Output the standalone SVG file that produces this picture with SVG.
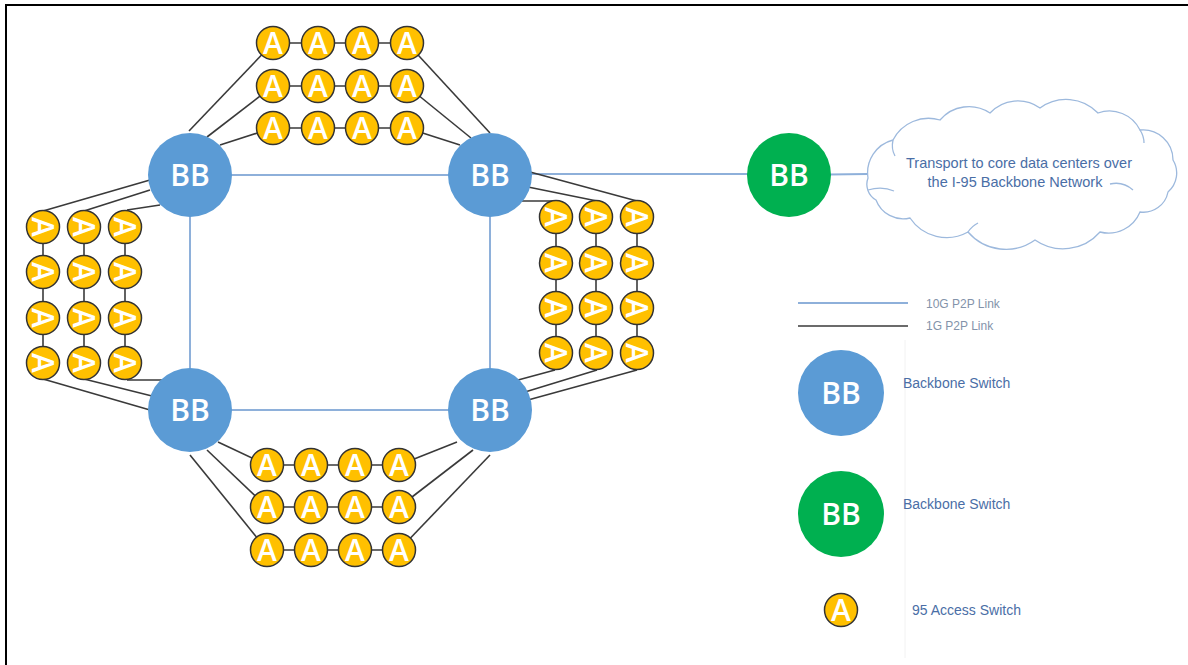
<svg xmlns="http://www.w3.org/2000/svg" width="1188" height="665" viewBox="0 0 1188 665">
<style>
.bg{fill:#ffffff}
.frame{stroke:#000;stroke-width:2;fill:none}
.l10{stroke:#8EB0DA;stroke-width:2;fill:none}
.l1{stroke:#3A3A3A;stroke-width:1.6;fill:none}
.bb{fill:#5B9BD5}
.gb{fill:#00B050}
.bbt{font-family:"Open Sans","Liberation Sans",sans-serif;font-size:30px;font-weight:600;fill:#fff;text-anchor:middle}
.ac{fill:#FFC000;stroke:#333;stroke-width:1.5}
.at{font-family:"Open Sans","Liberation Sans",sans-serif;font-size:30px;font-weight:600;fill:#fff;text-anchor:middle}
.cloud{fill:#fff;stroke:#9DB9DD;stroke-width:1.3}
.ct{font-family:"Liberation Sans",Arial,sans-serif;font-size:14.5px;fill:#4A6EA6;text-anchor:middle}
.lt{font-family:"Liberation Sans",Arial,sans-serif;font-size:14px;fill:#4A6EA6}
.st{font-family:"Liberation Sans",Arial,sans-serif;font-size:12px;fill:#8393AA}
</style>
<rect class="bg" x="0" y="0" width="1188" height="665"/>
<path class="frame" d="M6,665 V5 H1188"/>

<g id="connectors">
  <g id="links-10g">
    <line class="l10" x1="190" y1="175" x2="490" y2="175"/>
    <line class="l10" x1="190" y1="175" x2="190" y2="410"/>
    <line class="l10" x1="190" y1="410" x2="490" y2="410"/>
    <line class="l10" x1="490" y1="175" x2="490" y2="410"/>
    <line class="l10" x1="490" y1="174" x2="789" y2="174"/>
    <line class="l10" x1="789" y1="175" x2="868" y2="174"/>
  </g>
  <g id="links-1g">
    <line class="l1" x1="273" y1="43" x2="189" y2="131"/>
    <line class="l1" x1="273" y1="86" x2="207" y2="137"/>
    <line class="l1" x1="273" y1="128" x2="220" y2="145"/>
    <line class="l1" x1="407" y1="43" x2="490" y2="133"/>
    <line class="l1" x1="407" y1="86" x2="471" y2="138"/>
    <line class="l1" x1="407" y1="128" x2="460" y2="145"/>
    <line class="l1" x1="218" y1="442" x2="267" y2="465"/>
    <line class="l1" x1="207" y1="450" x2="267" y2="507"/>
    <line class="l1" x1="190" y1="455" x2="267" y2="550"/>
    <line class="l1" x1="457" y1="442" x2="399" y2="465"/>
    <line class="l1" x1="473" y1="450" x2="399" y2="507"/>
    <line class="l1" x1="490" y1="455" x2="399" y2="550"/>
    <line class="l1" x1="43" y1="211" x2="150" y2="180"/>
    <line class="l1" x1="84" y1="211" x2="150" y2="190"/>
    <line class="l1" x1="127" y1="210" x2="160" y2="205"/>
    <line class="l1" x1="43" y1="379" x2="150" y2="410"/>
    <line class="l1" x1="84" y1="379" x2="152" y2="396"/>
    <line class="l1" x1="127" y1="380" x2="162" y2="380"/>
    <line class="l1" x1="637" y1="201" x2="530" y2="172"/>
    <line class="l1" x1="597" y1="201" x2="528" y2="187"/>
    <line class="l1" x1="557" y1="201" x2="522" y2="201"/>
    <line class="l1" x1="555" y1="370" x2="518" y2="380"/>
    <line class="l1" x1="597" y1="370" x2="525" y2="392"/>
    <line class="l1" x1="637" y1="370" x2="528" y2="400"/>
    <line class="l1" x1="273" y1="43" x2="407" y2="43"/>
    <line class="l1" x1="273" y1="86" x2="407" y2="86"/>
    <line class="l1" x1="273" y1="128" x2="407" y2="128"/>
    <line class="l1" x1="267" y1="465" x2="399" y2="465"/>
    <line class="l1" x1="267" y1="507" x2="399" y2="507"/>
    <line class="l1" x1="267" y1="550" x2="399" y2="550"/>
    <line class="l1" x1="43" y1="227" x2="43" y2="363"/>
    <line class="l1" x1="84" y1="227" x2="84" y2="363"/>
    <line class="l1" x1="125" y1="227" x2="125" y2="363"/>
    <line class="l1" x1="556" y1="217" x2="556" y2="353"/>
    <line class="l1" x1="596" y1="217" x2="596" y2="353"/>
    <line class="l1" x1="637" y1="217" x2="637" y2="353"/>
  </g>
</g>

<g id="bb-tl"><circle class="bb" cx="190" cy="175" r="42"/><text class="bbt" x="190" y="186">BB</text></g>
<g id="bb-tr"><circle class="bb" cx="490" cy="175" r="42"/><text class="bbt" x="490" y="186">BB</text></g>
<g id="bb-bl"><circle class="bb" cx="190" cy="410" r="42"/><text class="bbt" x="190" y="421">BB</text></g>
<g id="bb-br"><circle class="bb" cx="490" cy="410" r="42"/><text class="bbt" x="490" y="421">BB</text></g>
<g id="bb-green"><circle class="gb" cx="789" cy="175" r="42"/><text class="bbt" x="789" y="186">BB</text></g>

<g id="cloud">
  <path class="cloud" d="M868,178 A34,34 0 0 1 893,140 A40,40 0 0 1 940,120 A38,38 0 0 1 990,113 A38,38 0 0 1 1040,108 A44,44 0 0 1 1098,113 A34,34 0 0 1 1140,130 A30,30 0 0 1 1173,160 A25,25 0 0 1 1168,192 A25,25 0 0 1 1140,212 A34,34 0 0 1 1100,232 A49,49 0 0 1 1035,240 A50,50 0 0 1 968,232 A44,44 0 0 1 910,218 A29,29 0 0 1 876,200 A18,18 0 0 1 868,178 Z"/>
  <path class="cloud" fill="none" d="M1110,184 Q1123,181 1133,190"/>
  <path class="cloud" fill="none" d="M868,190 Q882,186 894,191"/>
  <path class="cloud" fill="none" d="M893,140 Q891,149 895,156"/>
  <path class="cloud" fill="none" d="M1140,130 Q1144,136 1144,143"/>
  <path class="cloud" fill="none" d="M968,232 Q972,226 978,223"/>
  <text class="ct" x="1019" y="168">Transport to core data centers over</text>
  <text class="ct" x="1015" y="187">the I-95 Backbone Network</text>
</g>

<!-- top access rows -->
<g id="a-t1-1"><circle class="ac" cx="273" cy="43" r="16.5"/><text class="at" x="273" y="54">A</text></g>
<g id="a-t1-2"><circle class="ac" cx="318" cy="43" r="16.5"/><text class="at" x="318" y="54">A</text></g>
<g id="a-t1-3"><circle class="ac" cx="362" cy="43" r="16.5"/><text class="at" x="362" y="54">A</text></g>
<g id="a-t1-4"><circle class="ac" cx="407" cy="43" r="16.5"/><text class="at" x="407" y="54">A</text></g>
<g id="a-t2-1"><circle class="ac" cx="273" cy="86" r="16.5"/><text class="at" x="273" y="97">A</text></g>
<g id="a-t2-2"><circle class="ac" cx="318" cy="86" r="16.5"/><text class="at" x="318" y="97">A</text></g>
<g id="a-t2-3"><circle class="ac" cx="362" cy="86" r="16.5"/><text class="at" x="362" y="97">A</text></g>
<g id="a-t2-4"><circle class="ac" cx="407" cy="86" r="16.5"/><text class="at" x="407" y="97">A</text></g>
<g id="a-t3-1"><circle class="ac" cx="273" cy="128" r="16.5"/><text class="at" x="273" y="139">A</text></g>
<g id="a-t3-2"><circle class="ac" cx="318" cy="128" r="16.5"/><text class="at" x="318" y="139">A</text></g>
<g id="a-t3-3"><circle class="ac" cx="362" cy="128" r="16.5"/><text class="at" x="362" y="139">A</text></g>
<g id="a-t3-4"><circle class="ac" cx="407" cy="128" r="16.5"/><text class="at" x="407" y="139">A</text></g>

<!-- bottom access rows -->
<g id="a-b1-1"><circle class="ac" cx="267" cy="465" r="16.5"/><text class="at" x="267" y="476">A</text></g>
<g id="a-b1-2"><circle class="ac" cx="311" cy="465" r="16.5"/><text class="at" x="311" y="476">A</text></g>
<g id="a-b1-3"><circle class="ac" cx="355" cy="465" r="16.5"/><text class="at" x="355" y="476">A</text></g>
<g id="a-b1-4"><circle class="ac" cx="399" cy="465" r="16.5"/><text class="at" x="399" y="476">A</text></g>
<g id="a-b2-1"><circle class="ac" cx="267" cy="507" r="16.5"/><text class="at" x="267" y="518">A</text></g>
<g id="a-b2-2"><circle class="ac" cx="311" cy="507" r="16.5"/><text class="at" x="311" y="518">A</text></g>
<g id="a-b2-3"><circle class="ac" cx="355" cy="507" r="16.5"/><text class="at" x="355" y="518">A</text></g>
<g id="a-b2-4"><circle class="ac" cx="399" cy="507" r="16.5"/><text class="at" x="399" y="518">A</text></g>
<g id="a-b3-1"><circle class="ac" cx="267" cy="550" r="16.5"/><text class="at" x="267" y="561">A</text></g>
<g id="a-b3-2"><circle class="ac" cx="311" cy="550" r="16.5"/><text class="at" x="311" y="561">A</text></g>
<g id="a-b3-3"><circle class="ac" cx="355" cy="550" r="16.5"/><text class="at" x="355" y="561">A</text></g>
<g id="a-b3-4"><circle class="ac" cx="399" cy="550" r="16.5"/><text class="at" x="399" y="561">A</text></g>

<!-- left access columns -->
<g id="a-l1-1"><circle class="ac" cx="43" cy="227" r="16.5"/><text class="at" x="43" y="238" transform="rotate(90 43 227)">A</text></g>
<g id="a-l1-2"><circle class="ac" cx="43" cy="272" r="16.5"/><text class="at" x="43" y="283" transform="rotate(90 43 272)">A</text></g>
<g id="a-l1-3"><circle class="ac" cx="43" cy="318" r="16.5"/><text class="at" x="43" y="329" transform="rotate(90 43 318)">A</text></g>
<g id="a-l1-4"><circle class="ac" cx="43" cy="363" r="16.5"/><text class="at" x="43" y="374" transform="rotate(90 43 363)">A</text></g>
<g id="a-l2-1"><circle class="ac" cx="84" cy="227" r="16.5"/><text class="at" x="84" y="238" transform="rotate(90 84 227)">A</text></g>
<g id="a-l2-2"><circle class="ac" cx="84" cy="272" r="16.5"/><text class="at" x="84" y="283" transform="rotate(90 84 272)">A</text></g>
<g id="a-l2-3"><circle class="ac" cx="84" cy="318" r="16.5"/><text class="at" x="84" y="329" transform="rotate(90 84 318)">A</text></g>
<g id="a-l2-4"><circle class="ac" cx="84" cy="363" r="16.5"/><text class="at" x="84" y="374" transform="rotate(90 84 363)">A</text></g>
<g id="a-l3-1"><circle class="ac" cx="125" cy="227" r="16.5"/><text class="at" x="125" y="238" transform="rotate(90 125 227)">A</text></g>
<g id="a-l3-2"><circle class="ac" cx="125" cy="272" r="16.5"/><text class="at" x="125" y="283" transform="rotate(90 125 272)">A</text></g>
<g id="a-l3-3"><circle class="ac" cx="125" cy="318" r="16.5"/><text class="at" x="125" y="329" transform="rotate(90 125 318)">A</text></g>
<g id="a-l3-4"><circle class="ac" cx="125" cy="363" r="16.5"/><text class="at" x="125" y="374" transform="rotate(90 125 363)">A</text></g>

<!-- right access columns -->
<g id="a-r1-1"><circle class="ac" cx="556" cy="217" r="16.5"/><text class="at" x="556" y="228" transform="rotate(90 556 217)">A</text></g>
<g id="a-r1-2"><circle class="ac" cx="556" cy="263" r="16.5"/><text class="at" x="556" y="274" transform="rotate(90 556 263)">A</text></g>
<g id="a-r1-3"><circle class="ac" cx="556" cy="308" r="16.5"/><text class="at" x="556" y="319" transform="rotate(90 556 308)">A</text></g>
<g id="a-r1-4"><circle class="ac" cx="556" cy="353" r="16.5"/><text class="at" x="556" y="364" transform="rotate(90 556 353)">A</text></g>
<g id="a-r2-1"><circle class="ac" cx="596" cy="217" r="16.5"/><text class="at" x="596" y="228" transform="rotate(90 596 217)">A</text></g>
<g id="a-r2-2"><circle class="ac" cx="596" cy="263" r="16.5"/><text class="at" x="596" y="274" transform="rotate(90 596 263)">A</text></g>
<g id="a-r2-3"><circle class="ac" cx="596" cy="308" r="16.5"/><text class="at" x="596" y="319" transform="rotate(90 596 308)">A</text></g>
<g id="a-r2-4"><circle class="ac" cx="596" cy="353" r="16.5"/><text class="at" x="596" y="364" transform="rotate(90 596 353)">A</text></g>
<g id="a-r3-1"><circle class="ac" cx="637" cy="217" r="16.5"/><text class="at" x="637" y="228" transform="rotate(90 637 217)">A</text></g>
<g id="a-r3-2"><circle class="ac" cx="637" cy="263" r="16.5"/><text class="at" x="637" y="274" transform="rotate(90 637 263)">A</text></g>
<g id="a-r3-3"><circle class="ac" cx="637" cy="308" r="16.5"/><text class="at" x="637" y="319" transform="rotate(90 637 308)">A</text></g>
<g id="a-r3-4"><circle class="ac" cx="637" cy="353" r="16.5"/><text class="at" x="637" y="364" transform="rotate(90 637 353)">A</text></g>

<!-- legend -->
<g id="legend">
  <line x1="905" y1="340" x2="905" y2="658" stroke="#F2F2F2" stroke-width="1"/>
  <g id="legend-10g">
    <line class="l10" x1="798" y1="303" x2="908" y2="303"/>
    <text class="st" x="926" y="308">10G P2P Link</text>
  </g>
  <g id="legend-1g">
    <line class="l1" x1="798" y1="326" x2="908" y2="326" stroke-width="2"/>
    <text class="st" x="926" y="330">1G P2P Link</text>
  </g>
  <g id="legend-bb-blue">
    <circle class="bb" cx="841" cy="393" r="43"/><text class="bbt" x="841" y="404">BB</text>
    <text class="lt" x="903" y="388">Backbone Switch</text>
  </g>
  <g id="legend-bb-green">
    <circle class="gb" cx="841" cy="514" r="43"/><text class="bbt" x="841" y="525">BB</text>
    <text class="lt" x="903" y="509">Backbone Switch</text>
  </g>
  <g id="legend-access">
    <circle class="ac" cx="841" cy="610" r="16.5"/><text class="at" x="841" y="621">A</text>
    <text class="lt" x="912" y="615">95 Access Switch</text>
  </g>
</g>
</svg>
